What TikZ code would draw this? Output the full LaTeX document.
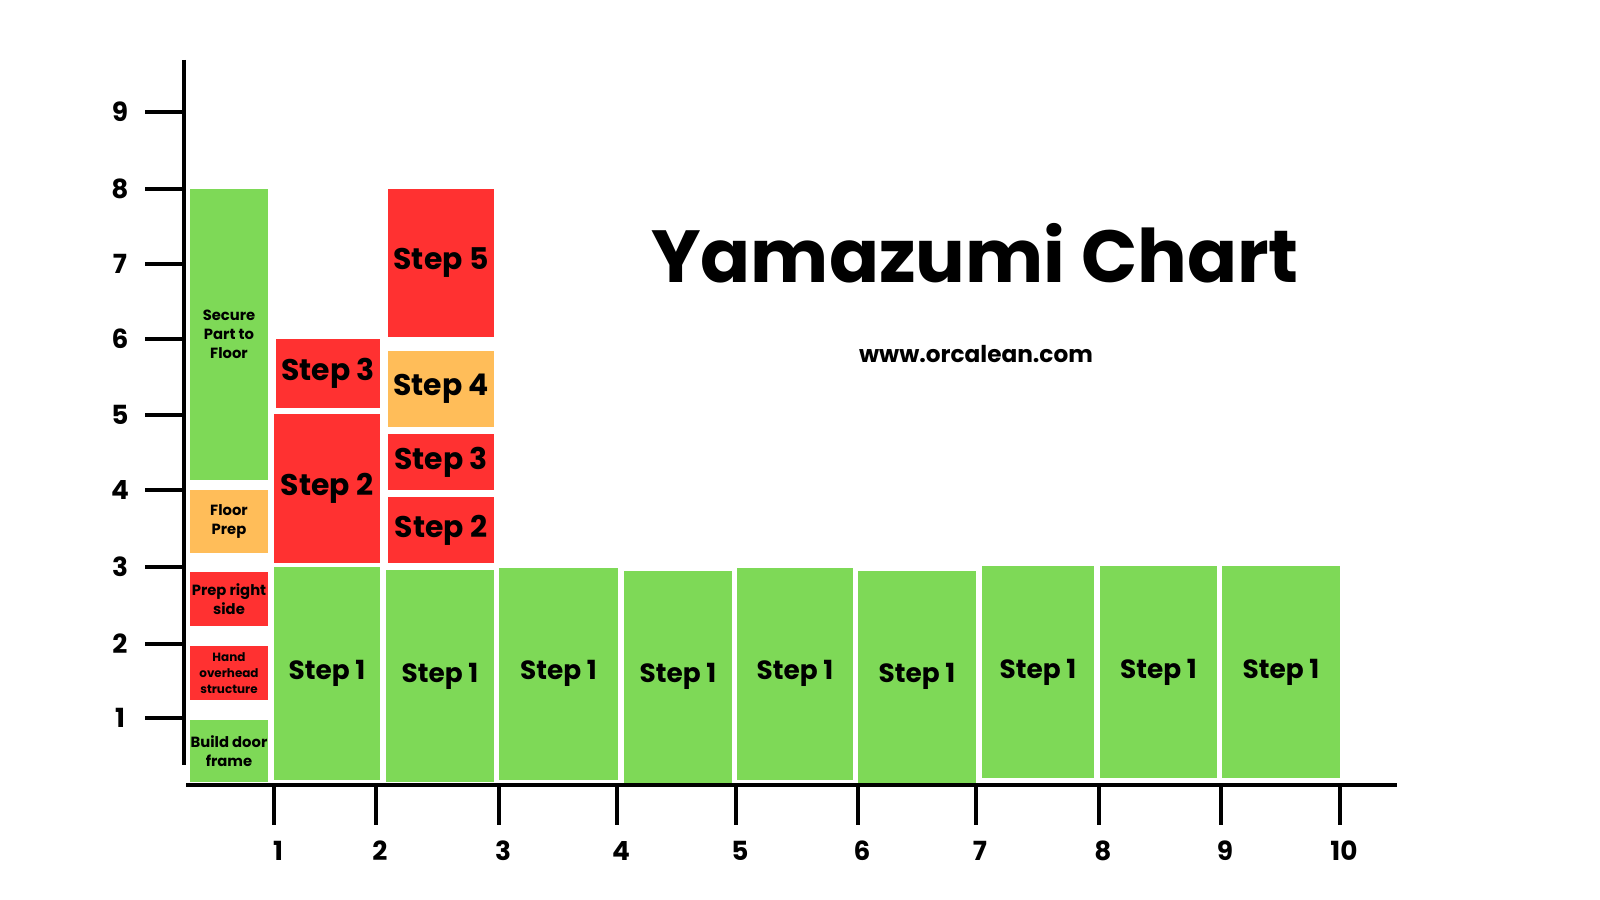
\documentclass[tikz,border=0pt]{standalone}
\usepackage{fontspec}
\setmainfont{Poppins}
\usetikzlibrary{positioning}
\definecolor{ygreen}{HTML}{7ED957}
\definecolor{yred}{HTML}{FF3131}
\definecolor{yorange}{HTML}{FFBD59}
\tikzset{
  seg/.style={inner sep=0pt, align=center, font=\bfseries\fontsize{7.5}{8}\selectfont},
  small/.style={seg, font=\bfseries\fontsize{4.2}{5.4}\selectfont},
  tiny/.style={seg, font=\bfseries\fontsize{3.4}{4.6}\selectfont},
  axis/.style={line width=1.4pt},
  lab/.style={font=\bfseries\fontsize{7.5}{8}\selectfont}
}
\begin{document}
\begin{tikzpicture}[x=0.1mm,y=-0.1mm]
\useasboundingbox (0,0) rectangle (1600,900);

% axes
\coordinate (ytop) at (184,60);
\coordinate (ybot) at (184,765);
\coordinate (xl) at (186,785);
\coordinate (xr) at (1397,785);
\draw[axis] (ytop) -- (ybot);
\draw[axis] (xl) -- (xr);
\foreach \v/\y in {9/112,8/189,7/264,6/339,5/415,4/490,3/567,2/644,1/718}{
  \coordinate (yt\v) at (145,\y);
  \draw[axis] (yt\v) -- (184,\y);
  \node[lab] (yl\v) at (120,\y) {\v};
}
\foreach \v/\x in {1/274,2/376,3/499,4/617,5/736,6/858,7/976,8/1099,9/1221,10/1340}{
  \coordinate (xt\v) at (\x,785);
  \draw[axis] (xt\v) -- (\x,825);
  \node[lab] (xn\v) at (\x+4,851) {\v};
}

% station 1
\node[small, fill=ygreen, minimum width=7.8mm, minimum height=29.1mm] (s1a) at (229,334.5) {Secure\\Part to\\Floor};
\node[small, fill=yorange, minimum width=7.8mm, minimum height=6.3mm] (s1b) at (229,521.5) {Floor\\Prep};
\node[small, fill=yred, minimum width=7.8mm, minimum height=5.4mm] (s1c) at (229,599) {Prep right\\side};
\node[tiny, fill=yred, minimum width=7.8mm, minimum height=5.4mm] (s1d) at (229,673) {Hand\\overhead\\structure};
\node[small, fill=ygreen, minimum width=7.8mm, minimum height=6.2mm] (s1e) at (229,751) {Build door\\frame};

% station 2
\node[seg, fill=ygreen, minimum width=10.6mm, minimum height=21.3mm] (s2a) at (327,673.5) {Step 1};
\node[seg, fill=yred, minimum width=10.6mm, minimum height=14.9mm, font=\bfseries\fontsize{8.5}{9}\selectfont] (s2b) at (327,488.5) {Step 2};
\node[seg, fill=yred, minimum width=10.4mm, minimum height=6.9mm, font=\bfseries\fontsize{8.5}{9}\selectfont] (s2c) at (328,373.5) {Step 3};

% station 3
\node[seg, fill=ygreen, minimum width=10.8mm, minimum height=21.2mm] (s3a) at (440,676) {Step 1};
\node[seg, fill=yred, minimum width=10.6mm, minimum height=6.6mm, font=\bfseries\fontsize{8.5}{9}\selectfont] (s3b) at (441,530) {Step 2};
\node[seg, fill=yred, minimum width=10.6mm, minimum height=5.6mm, font=\bfseries\fontsize{8.5}{9}\selectfont] (s3c) at (441,462) {Step 3};
\node[seg, fill=yorange, minimum width=10.6mm, minimum height=7.6mm, font=\bfseries\fontsize{8.5}{9}\selectfont] (s3d) at (441,389) {Step 4};
\node[seg, fill=yred, minimum width=10.6mm, minimum height=14.8mm, font=\bfseries\fontsize{8.5}{9}\selectfont] (s3e) at (441,263) {Step 5};

% remaining stations
\foreach \n/\x/\y/\w in {4/558.5/673.5/11.9, 5/678/676.5/10.8, 6/795/673.5/11.6, 7/917/676.5/11.8,
                         8/1038/672/11.2, 9/1158.5/672/11.7, 10/1281/672/11.8}{
  \node[seg, fill=ygreen, minimum width=\w mm, minimum height=21.2mm] (s\n a) at (\x,\y) {Step 1};
}

% title
\node[font=\bfseries\fontsize{21}{24}\selectfont] (title) at (975,253) {Yamazumi Chart};
\node[font=\bfseries\fontsize{6.6}{8}\selectfont] (url) at (976,354) {www.orcalean.com};
\end{tikzpicture}
\end{document}
